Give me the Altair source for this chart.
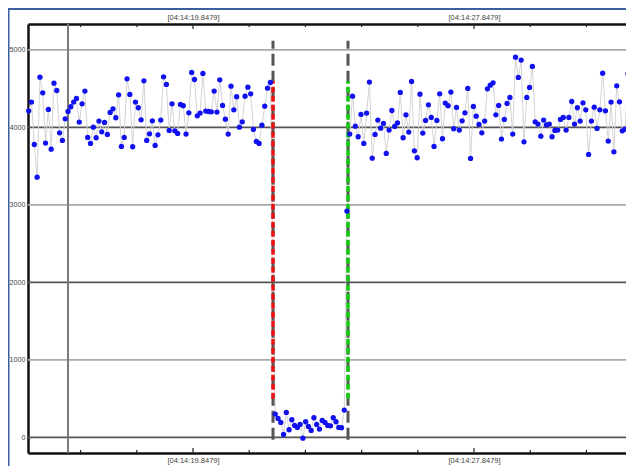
import altair as alt
import pandas as pd

# ---- data ----
left_values = [4215, 4327, 3780, 3359, 4649, 4447, 3798, 4232, 3720, 4572, 4477, 3931, 3832, 4112, 4206,
               4267, 4327, 4374, 4069, 4305, 4469, 3871, 3794, 4004, 3867, 4082, 3944, 4065, 3910, 4194,
               4241, 4125, 4421, 3755, 3871, 4628, 4426, 3751, 4327, 4254, 4099, 4602, 3832, 3918, 4086,
               3768, 3905, 4095, 4654, 4555, 3961, 4305, 3957, 3923, 4297, 4280, 3914, 4189, 4710, 4619,
               4150, 4185, 4697, 4211, 4206, 4202, 4469, 4198, 4615, 4284, 4107, 3914, 4533, 4228, 4396,
               4004, 4073, 4404, 4520, 4434, 3974, 3819, 3794, 4030, 4275, 4507, 4580]
gap_values = [301, 245, 194, 39, 323, 99, 228, 155, 129, 168, -10, 202, 142, 90, 254, 168, 108, 219,
              194, 155, 150, 254, 202, 129, 125, 353]
right_values = [2921, 3914, 4404, 4017, 3880, 4168, 3794, 4185, 4585, 3604, 3910, 4095, 3991, 4052, 3665,
                3966, 4219, 4013, 4060, 4452, 3867, 4163, 3940, 4593, 3699, 3609, 4430, 3927, 4090, 4292,
                4129, 3755, 4090, 4434, 3854, 4314, 4280, 4456, 3983, 4258, 3966, 4086, 4189, 4503, 3600,
                4271, 4146, 4039, 3931, 4082, 4499, 4546, 4576, 4163, 4284, 3850, 4103, 4310, 4387, 3914,
                4907, 4645, 4869, 3815, 4387, 4516, 4787, 4073, 4043, 3888, 4095, 4034, 4043, 3880, 3961,
                3966, 4103, 4129, 3966, 4129, 4335, 4043, 4254, 4082, 4318, 4228, 3652, 4082, 4262, 3987,
                4228, 4701, 4215, 3824, 4327, 3686, 4537, 4331, 3957, 3978, 4692, 4615, 4107]

# segment start times (seconds past 04:14) and sample spacing
left_start, gap_start, right_start = 15.17, 22.19, 24.23
left_dt, gap_dt, right_dt = 0.08, 0.0786, 0.08

x_domain = [15.1504, 32.175]
y_domain = [-201, 5335]

major_grid = [0, 2000, 4000]
minor_grid = [1000, 3000, 5000]
y_ticks = [0, 1000, 2000, 3000, 4000, 5000]
x_label_times = [19.8479, 27.8479]
x_tick_times = [16.6479, 18.2479, 19.8479, 21.4479, 23.0479, 24.6479, 26.2479, 27.8479, 29.4479, 31.0479]
cursor_time = [16.289]
red_time = 22.1255
green_time = 24.2607
marker_span = [-30, 5120]     # grey dashed extent
colored_span = [500, 4600]    # red / green dashed extent

# ---- tables ----
rows = []
for start, dt, vals in [(left_start, left_dt, left_values),
                        (gap_start, gap_dt, gap_values),
                        (right_start, right_dt, right_values)]:
    for k, v in enumerate(vals):
        rows.append({"t": start + dt * k, "v": v})
df = pd.DataFrame(rows).reset_index()

W, H = 598, 429
xs = alt.Scale(domain=x_domain, nice=False, zero=False)
ys = alt.Scale(domain=y_domain, nice=False, zero=False)

FONT = "Liberation Sans"
label_expr = "'[04:14:' + format(datum.value, '.4f') + ']'"

def x_axis(orient):
    return alt.Axis(orient=orient, values=x_label_times, labelExpr=label_expr, title=None,
                    grid=False, ticks=False, domain=True, domainColor="#111", domainWidth=2.5,
                    labelFont=FONT, labelFontSize=7.5, labelColor="#444", labelPadding=3)

y_axis = alt.Axis(values=y_ticks, format="d", title=None, grid=False, ticks=False,
                  domain=True, domainColor="#111", domainWidth=2.5,
                  labelFont=FONT, labelFontSize=7.2, labelColor="#444", labelPadding=3)

def Y(field):
    return alt.Y(field, scale=ys, axis=y_axis)

grid_minor = alt.Chart(pd.DataFrame({"g": minor_grid})).mark_rule(color="#aaa", strokeWidth=1.8).encode(
    y=Y("g:Q"))
grid_major = alt.Chart(pd.DataFrame({"g": major_grid})).mark_rule(color="#555", strokeWidth=1.8).encode(
    y=Y("g:Q"))
cursor = alt.Chart(pd.DataFrame({"t": cursor_time})).mark_rule(color="#7a7a7a", strokeWidth=2).encode(
    x=alt.X("t:Q", scale=xs, axis=None))

ticks_df = pd.DataFrame({"t": x_tick_times})
ticks_df["major"] = ticks_df["t"].isin(x_label_times)
ticks_df["b0"] = y_domain[0]
ticks_df["b1"] = [y_domain[0] + (65 if m else 40) for m in ticks_df["major"]]
ticks_df["t0"] = y_domain[1]
ticks_df["t1"] = [y_domain[1] - (65 if m else 40) for m in ticks_df["major"]]
bottom_ticks = alt.Chart(ticks_df).mark_rule(color="#222", strokeWidth=1.2).encode(
    x=alt.X("t:Q", scale=xs, axis=None), y=Y("b0:Q"), y2="b1:Q")
top_ticks = alt.Chart(ticks_df).mark_rule(color="#222", strokeWidth=1.2).encode(
    x=alt.X("t:Q", scale=xs, axis=None), y=Y("t0:Q"), y2="t1:Q")

conn = alt.Chart(df).mark_line(color="#d4d4d4", strokeWidth=1).encode(
    x=alt.X("t:Q", scale=xs, axis=x_axis("top")),
    y=Y("v:Q"),
    order="index:Q")

pts = alt.Chart(df).mark_circle(color="#1010f0", size=28, opacity=1).encode(
    x=alt.X("t:Q", scale=xs, axis=x_axis("bottom")),
    y=Y("v:Q"))

mk = pd.DataFrame({"t": [red_time, green_time], "c": ["red", "green"],
                   "g0": [marker_span[0]] * 2, "g1": [marker_span[1]] * 2,
                   "c0": [colored_span[0]] * 2, "c1": [colored_span[1]] * 2})
grey_dash = alt.Chart(mk).mark_rule(color="#555", strokeWidth=3, strokeDash=[12, 5]).encode(
    x=alt.X("t:Q", scale=xs, axis=None), y=Y("g0:Q"), y2="g1:Q")
red_dash = alt.Chart(mk[mk.c == "red"]).mark_rule(color="#ee1111", strokeWidth=3.5, strokeDash=[6, 3]).encode(
    x=alt.X("t:Q", scale=xs, axis=None), y=Y("c0:Q"), y2="c1:Q")
green_dash = alt.Chart(mk[mk.c == "green"]).mark_rule(color="#11cc11", strokeWidth=3.5, strokeDash=[6, 3]).encode(
    x=alt.X("t:Q", scale=xs, axis=None), y=Y("c0:Q"), y2="c1:Q")

frame_top = alt.Chart(pd.DataFrame({"a": [0]})).mark_rule(color="#3a5f9a", strokeWidth=2).encode(
    x=alt.value(-20), x2=alt.value(W), y=alt.value(-15))
frame_left = alt.Chart(pd.DataFrame({"a": [0]})).mark_rule(color="#3a5f9a", strokeWidth=1.5).encode(
    x=alt.value(-19.25), y=alt.value(-15), y2=alt.value(442))

chart = alt.layer(
    grid_minor, grid_major, cursor, bottom_ticks, top_ticks, conn, grey_dash, red_dash, green_dash, pts,
    frame_top, frame_left
).resolve_axis(x="independent").properties(
    width=W, height=H,
    autosize=alt.AutoSizeParams(type="none"),
    padding={"left": 20, "top": 16, "right": 0, "bottom": 13},
    background="white",
).configure_view(strokeWidth=0)

chart.save("out.html", embed_options={"renderer": "svg", "actions": False})
